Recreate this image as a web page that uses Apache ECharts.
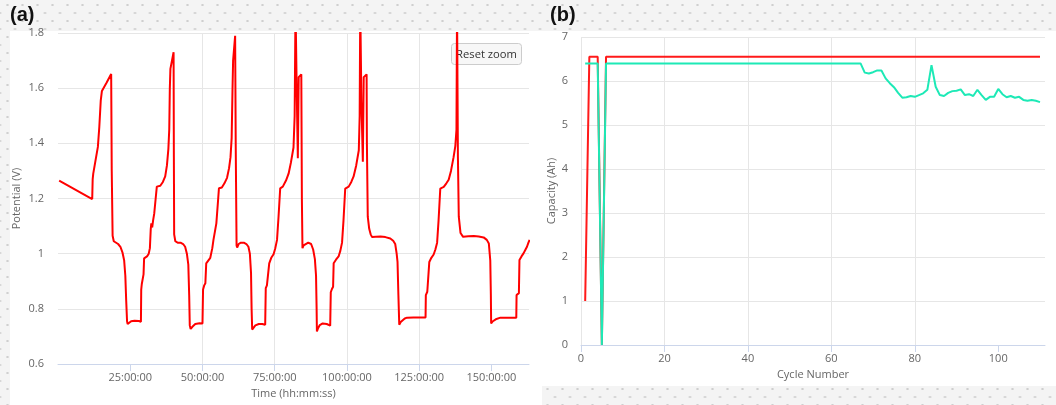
<!DOCTYPE html>
<html>
<head>
<meta charset="utf-8">
<script src="https://cdn.jsdelivr.net/npm/echarts@6/dist/echarts.min.js"></script>
<style>
html,body{margin:0;padding:0;}
#chart{width:1056px;height:405px;
background-color:#f4f4f4;
background-image:radial-gradient(circle,#cfcfcf 0.9px,transparent 1.4px),radial-gradient(circle,#cfcfcf 0.9px,transparent 1.4px);
background-size:15px 16px;background-position:0 -3px,7.5px 5px;}
</style>
</head>
<body>
<div id="chart"></div>
<script>
// ---- Panel (a): potential vs time (hours) ----
const timeHours = [
0.4,11.84,12.0,12.2,12.9,13.8,14.3,14.8,15.2,16.8,18.4,
18.6,18.9,19.3,19.8,20.8,21.6,22.3,22.9,23.3,23.6,23.9,24.1,24.6,25.3,26.5,28.0,28.7,
28.8,29.0,29.6,29.8,30.8,31.4,31.8,32.1,32.3,32.6,32.9,33.3,33.8,34.2,35.4,36.3,37.1,37.7,38.2,38.5,38.7,38.9,40.0,
40.1,40.2,40.6,41.4,42.4,43.3,44.0,44.6,45.1,45.4,45.6,45.9,46.5,47.5,49.0,50.0,
50.2,50.6,51.0,51.3,52.0,52.7,53.4,53.8,54.3,54.8,55.3,55.7,56.7,57.6,58.5,59.2,59.7,60.1,60.4,60.6,61.3,
61.5,61.8,62.0,62.5,63.3,64.3,65.2,65.9,66.4,66.8,67.0,67.2,67.6,68.3,69.5,70.7,71.7,
71.9,72.3,72.9,73.1,73.8,74.6,75.2,75.8,76.3,76.9,77.8,78.9,79.8,80.6,81.5,81.9,82.2,82.6,83.0,83.3,84.2,
84.4,84.6,85.0,85.6,86.6,87.6,88.3,88.9,89.3,89.5,89.6,90.0,90.6,91.6,93.0,94.2,
94.4,94.8,95.2,95.4,96.2,97.1,97.7,98.3,98.8,99.4,100.6,101.5,102.3,103.2,104.1,104.4,104.6,105.0,105.5,105.8,106.8,
106.9,107.2,107.7,108.2,108.7,110.0,111.6,113.3,115.0,116.0,116.7,117.2,117.5,117.8,118.1,118.6,119.1,120.0,120.8,123.0,125.0,127.2,
127.3,127.8,128.3,128.5,129.2,130.0,130.6,131.2,131.7,132.3,133.5,134.4,135.2,136.0,136.9,137.5,137.9,138.1,
138.4,138.7,139.3,140.2,142.0,143.9,145.6,147.3,148.4,149.1,149.4,149.6,149.8,149.9,150.5,151.5,153.1,156.0,158.6,
158.7,159.1,159.5,159.7,160.4,161.1,161.8,162.3,162.8,163.2
];
const potential = [
1.265,1.198,1.27,1.29,1.333,1.387,1.46,1.556,1.59,1.62,1.651,
1.30,1.065,1.045,1.04,1.035,1.025,1.005,0.975,0.92,0.83,0.755,0.745,0.75,0.755,0.757,0.756,0.753,
0.87,0.89,0.925,0.983,0.99,1.0,1.02,1.09,1.11,1.095,1.12,1.145,1.2,1.243,1.246,1.26,1.28,1.32,1.38,1.45,1.60,1.67,1.73,
1.35,1.07,1.045,1.04,1.04,1.035,1.025,1.0,0.96,0.85,0.74,0.727,0.735,0.745,0.748,0.747,
0.87,0.885,0.893,0.965,0.975,0.985,1.02,1.05,1.08,1.11,1.18,1.237,1.24,1.255,1.275,1.31,1.35,1.42,1.60,1.70,1.79,
1.4,1.03,1.022,1.035,1.04,1.04,1.035,1.025,1.0,0.93,0.80,0.725,0.73,0.74,0.745,0.745,0.742,
0.875,0.885,0.887,0.965,0.985,0.998,1.02,1.05,1.13,1.237,1.243,1.265,1.29,1.33,1.385,1.50,1.9,1.60,1.346,1.64,1.65,
1.2,1.02,1.03,1.037,1.04,1.035,1.015,0.98,0.92,0.80,0.718,0.73,0.741,0.747,0.745,0.739,
0.86,0.872,0.88,0.965,0.978,0.99,1.01,1.04,1.12,1.236,1.243,1.26,1.28,1.32,1.375,1.50,1.9,1.55,1.333,1.64,1.65,
1.40,1.134,1.09,1.07,1.06,1.061,1.062,1.06,1.055,1.047,1.035,1.0,0.97,0.85,0.742,0.752,0.759,0.765,0.768,0.769,0.769,0.769,
0.85,0.862,0.868,0.97,0.985,0.997,1.015,1.04,1.12,1.236,1.242,1.255,1.268,1.30,1.35,1.39,1.45,1.9,
1.35,1.134,1.075,1.061,1.063,1.064,1.062,1.059,1.05,1.037,1.0,0.975,0.85,0.747,0.755,0.762,0.768,0.768,0.768,
0.85,0.853,0.857,0.977,0.99,1.001,1.015,1.025,1.04,1.05
];
const timeTicks = [25,50,75,100,125,150];

// ---- Panel (b): capacity vs cycle number ----
const cycles = [
1,2,3,4,5,6,7,8,9,10,11,12,13,14,15,16,17,18,19,20,
21,22,23,24,25,26,27,28,29,30,31,32,33,34,35,36,37,38,39,40,
41,42,43,44,45,46,47,48,49,50,51,52,53,54,55,56,57,58,59,60,
61,62,63,64,65,66,67,68,69,70,71,72,73,74,75,76,77,78,79,80,
81,82,83,84,85,86,87,88,89,90,91,92,93,94,95,96,97,98,99,100,
101,102,103,104,105,106,107,108,109,110
];
const chargeCap = [
1.0,6.55,6.55,6.55,0,6.55,6.55,6.55,6.55,6.55,
6.55,6.55,6.55,6.55,6.55,6.55,6.55,6.55,6.55,6.55,
6.55,6.55,6.55,6.55,6.55,6.55,6.55,6.55,6.55,6.55,
6.55,6.55,6.55,6.55,6.55,6.55,6.55,6.55,6.55,6.55,
6.55,6.55,6.55,6.55,6.55,6.55,6.55,6.55,6.55,6.55,
6.55,6.55,6.55,6.55,6.55,6.55,6.55,6.55,6.55,6.55,
6.55,6.55,6.55,6.55,6.55,6.55,6.55,6.55,6.55,6.55,
6.55,6.55,6.55,6.55,6.55,6.55,6.55,6.55,6.55,6.55,
6.55,6.55,6.55,6.55,6.55,6.55,6.55,6.55,6.55,6.55,
6.55,6.55,6.55,6.55,6.55,6.55,6.55,6.55,6.55,6.55,
6.55,6.55,6.55,6.55,6.55,6.55,6.55,6.55,6.55,6.55
];
const dischargeCap = [
6.4,6.4,6.4,6.4,0,6.4,6.4,6.4,6.4,6.4,
6.4,6.4,6.4,6.4,6.4,6.4,6.4,6.4,6.4,6.4,
6.4,6.4,6.4,6.4,6.4,6.4,6.4,6.4,6.4,6.4,
6.4,6.4,6.4,6.4,6.4,6.4,6.4,6.4,6.4,6.4,
6.4,6.4,6.4,6.4,6.4,6.4,6.4,6.4,6.4,6.4,
6.4,6.4,6.4,6.4,6.4,6.4,6.4,6.4,6.4,6.4,
6.4,6.4,6.4,6.4,6.4,6.4,6.4,6.19,6.17,6.20,
6.24,6.24,6.06,5.95,5.86,5.73,5.62,5.63,5.66,5.64,
5.68,5.72,5.80,6.36,5.87,5.68,5.66,5.73,5.77,5.78,
5.81,5.68,5.70,5.66,5.80,5.68,5.57,5.64,5.64,5.82,
5.70,5.63,5.66,5.62,5.64,5.57,5.55,5.57,5.55,5.52
];
const cycleTicks = [0,20,40,60,80,100];

const FONT = '"Open Sans", "Liberation Sans", sans-serif';
const labelColor = '#666666';
const gridColor = '#e6e6e6';
const axisColor = '#ccd6eb';

const potentialData = timeHours.map((t, i) => [t, potential[i]]);
const chargeData = cycles.map((c, i) => [c, chargeCap[i]]);
const dischargeData = cycles.map((c, i) => [c, dischargeCap[i]]);

const chart = echarts.init(document.getElementById('chart'), null, {renderer: 'canvas'});

function xAxisCommon(extra) {
  return Object.assign({
    type: 'value',
    nameLocation: 'middle',
    nameGap: 23,
    nameTextStyle: {color: labelColor, fontSize: 11, fontFamily: FONT},
    axisLine: {show: true, lineStyle: {color: axisColor, width: 1}},
    axisTick: {show: true, length: 7, lineStyle: {color: axisColor}},
    axisLabel: {color: labelColor, fontSize: 11, fontFamily: FONT, margin: 8},
    splitLine: {show: true, showMinLine: true, showMaxLine: false, lineStyle: {color: gridColor, width: 1}}
  }, extra);
}
function yAxisCommon(extra) {
  return Object.assign({
    type: 'value',
    nameLocation: 'middle',
    nameTextStyle: {color: labelColor, fontSize: 11, fontFamily: FONT},
    axisLine: {show: false},
    axisTick: {show: false},
    axisLabel: {color: labelColor, fontSize: 11, fontFamily: FONT, margin: 14},
    splitLine: {show: true, lineStyle: {color: gridColor, width: 1}}
  }, extra);
}

const option = {
  animation: false,
  graphic: [
    {type: 'rect', z: -100, silent: true, shape: {x: 10, y: 31, width: 1046, height: 355}, style: {fill: '#ffffff'}},
    {type: 'rect', z: -100, silent: true, shape: {x: 10, y: 385, width: 532, height: 20}, style: {fill: '#ffffff'}},
    {type: 'text', left: 10, top: 5, style: {text: '(a)', fill: '#111', font: 'bold 20px "Liberation Sans", Arial, sans-serif'}},
    {type: 'text', left: 550, top: 5, style: {text: '(b)', fill: '#111', font: 'bold 20px "Liberation Sans", Arial, sans-serif'}},
    {type: 'group', left: 451, top: 43, z: 100, children: [
      {type: 'rect', shape: {x: 0.5, y: 0.5, width: 70, height: 21, r: 3}, style: {fill: '#f7f7f7', stroke: '#cccccc', lineWidth: 1}},
      {type: 'text', x: 35.5, y: 11.5, style: {text: 'Reset zoom', fill: '#333333', fontSize: 11.2, fontFamily: FONT, align: 'center', verticalAlign: 'middle'}}
    ]}
  ],
  grid: [
    {left: 58, top: 33, width: 471, height: 331, containLabel: false},
    {left: 581, top: 37, width: 464, height: 308, containLabel: false}
  ],
  xAxis: [
    xAxisCommon({
      gridIndex: 0, min: 0, max: 163, interval: 25,
      name: 'Time (hh:mm:ss)',
      axisTick: {show: true, length: 7, lineStyle: {color: axisColor}, customValues: timeTicks},
      axisLabel: {color: labelColor, fontSize: 11, fontFamily: FONT, margin: 8, customValues: timeTicks,
        formatter: v => v + ':00:00'},
      splitLine: {show: true, showMinLine: false, showMaxLine: false, lineStyle: {color: gridColor, width: 1}}
    }),
    xAxisCommon({
      gridIndex: 1, min: 0, max: 111.2, interval: 20,
      name: 'Cycle Number',
      axisTick: {show: true, length: 7, lineStyle: {color: axisColor}, customValues: cycleTicks},
      axisLabel: {color: labelColor, fontSize: 11, fontFamily: FONT, margin: 8, customValues: cycleTicks}
    })
  ],
  yAxis: [
    yAxisCommon({gridIndex: 0, min: 0.6, max: 1.8, interval: 0.2, name: 'Potential (V)', nameGap: 36}),
    yAxisCommon({gridIndex: 1, min: 0, max: 7, interval: 1, name: 'Capacity (Ah)', nameGap: 24,
      axisLabel: {color: labelColor, fontSize: 11, fontFamily: FONT, margin: 13}})
  ],
  series: [
    {type: 'line', xAxisIndex: 0, yAxisIndex: 0, data: potentialData, showSymbol: false, clip: true,
      lineStyle: {color: '#ff0000', width: 2}, itemStyle: {color: '#ff0000'}},
    {type: 'line', xAxisIndex: 1, yAxisIndex: 1, data: chargeData, showSymbol: false, clip: true,
      lineStyle: {color: '#ff1a1a', width: 2}, itemStyle: {color: '#ff1a1a'}},
    {type: 'line', xAxisIndex: 1, yAxisIndex: 1, data: dischargeData, showSymbol: false, clip: true,
      lineStyle: {color: '#1de9b6', width: 2}, itemStyle: {color: '#1de9b6'}}
  ]
};
chart.setOption(option);
</script>
</body>
</html>
